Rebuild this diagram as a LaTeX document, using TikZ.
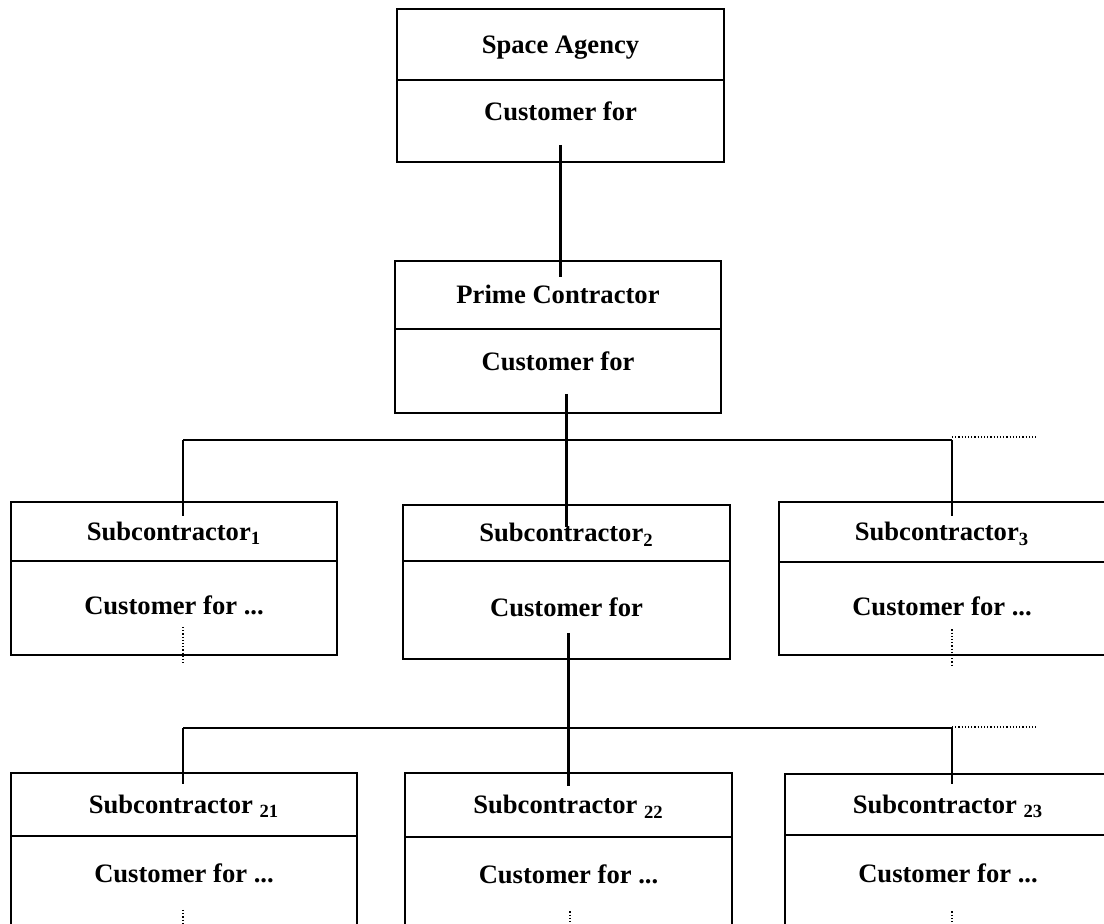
\documentclass[tikz,border=0pt]{standalone}
\usepackage{fontspec}
\setmainfont{Liberation Serif}
\usetikzlibrary{calc,positioning}

\begin{document}
\begin{tikzpicture}[
		x=0.5pt, y=-0.5pt,
		font=\fontsize{13.3}{16}\selectfont\bfseries,
		part/.style={draw, line width=1.2pt, inner sep=0pt, outer sep=0pt, text height=9pt},
		head/.style={part, text depth=0pt},
		body/.style={part, text depth=9pt},
		conn/.style={line width=1.2pt},
		more/.style={densely dotted, line width=0.6pt}
	]
	\useasboundingbox (0,0) rectangle (1104,924);
	\clip (0,0) rectangle (1104,924);

	% space agency and prime contractor
	\node[head, minimum width=163.5pt, minimum height=35.5pt] (sa) at (560.5,44.5) {Space Agency};
	\node[body, minimum width=163.5pt, minimum height=41pt, below=0pt of sa] (sab) {Customer for};
	\node[head, minimum width=163pt, minimum height=34pt] (pc) at (558,295) {Prime Contractor};
	\node[body, minimum width=163pt, minimum height=42pt, below=0pt of pc] (pcb) {Customer for};

	% first level
	\node[head, minimum width=163pt, minimum height=29.5pt] (s1) at (174,531.5) {Subcontractor\textsubscript{1}};
	\node[body, text depth=2pt, minimum width=163pt, minimum height=47pt, below=0pt of s1] (s1b) {Customer for ...};
	\node[head, minimum width=163.5pt, minimum height=28pt] (s2) at (566.5,533) {Subcontractor\textsubscript{2}};
	\node[body, text depth=2pt, minimum width=163.5pt, minimum height=49pt, below=0pt of s2] (s2b) {Customer for};
	\node[head, minimum width=163pt, minimum height=30pt] (s3) at (942,532) {Subcontractor\textsubscript{3}};
	\node[body, text depth=2pt, minimum width=163pt, minimum height=46.5pt, below=0pt of s3] (s3b) {Customer for ...};

	% second level
	\node[head, minimum width=173pt, minimum height=31.5pt] (s21) at (184,804.5) {Subcontractor \textsubscript{21}};
	\node[body, minimum width=173pt, minimum height=47pt, below=0pt of s21] (s21b) {Customer for ...};
	\node[head, minimum width=163.5pt, minimum height=32pt] (s22) at (568.5,805) {Subcontractor \textsubscript{22}};
	\node[body, minimum width=163.5pt, minimum height=46.5pt, below=0pt of s22] (s22b) {Customer for ...};
	\node[head, minimum width=163pt, minimum height=30.5pt] (s23) at (948,804.5) {Subcontractor \textsubscript{23}};
	\node[body, minimum width=163pt, minimum height=47.5pt, below=0pt of s23] (s23b) {Customer for ...};

	% connectors
	\draw[conn] ($(sab.center)+(0,24)$) -- ($(sab.center |- pc.north)+(0,16)$);
	\draw[conn] ($(s2.center |- pcb.center)+(0,23)$) -- ($(s2.north)+(0,22)$);

	\coordinate (b1) at (183,440);
	\coordinate (b3) at (952,440);
	\draw[conn] (b1) -- (b3);
	\draw[conn] (b1) -- ($(b1 |- s1.north)+(0,14)$);
	\draw[conn] (b3) -- ($(b3 |- s3.north)+(0,14)$);
	\draw[more] ($(b3)+(0,-3)$) -- ++(86,0);
	\draw[more] ($(b1 |- s1b.center)+(0,19)$) -- ++(0,36);
	\draw[more] ($(b3 |- s3b.center)+(0,21)$) -- ++(0,37);

	\coordinate (c1) at (183,728);
	\coordinate (c3) at (952,728);
	\draw[conn] (c1) -- (c3);
	\draw[conn] ($(s22.center |- s2b.center)+(0,23)$) -- ($(s22.north)+(0,13)$);
	\draw[conn] (c1) -- ($(c1 |- s21.north)+(0,11)$);
	\draw[conn] (c3) -- ($(c3 |- s23.north)+(0,10)$);
	\draw[more] ($(c3)+(0,-1)$) -- ++(86,0);
	\draw[more] ($(c1 |- s21b.center)+(0,27)$) -- ++(0,30);
	\draw[more] ($(s22b.center)+(1.5,28)$) -- ++(0,30);
	\draw[more] ($(c3 |- s23b.center)+(0,29)$) -- ++(0,30);
\end{tikzpicture}
\end{document}
